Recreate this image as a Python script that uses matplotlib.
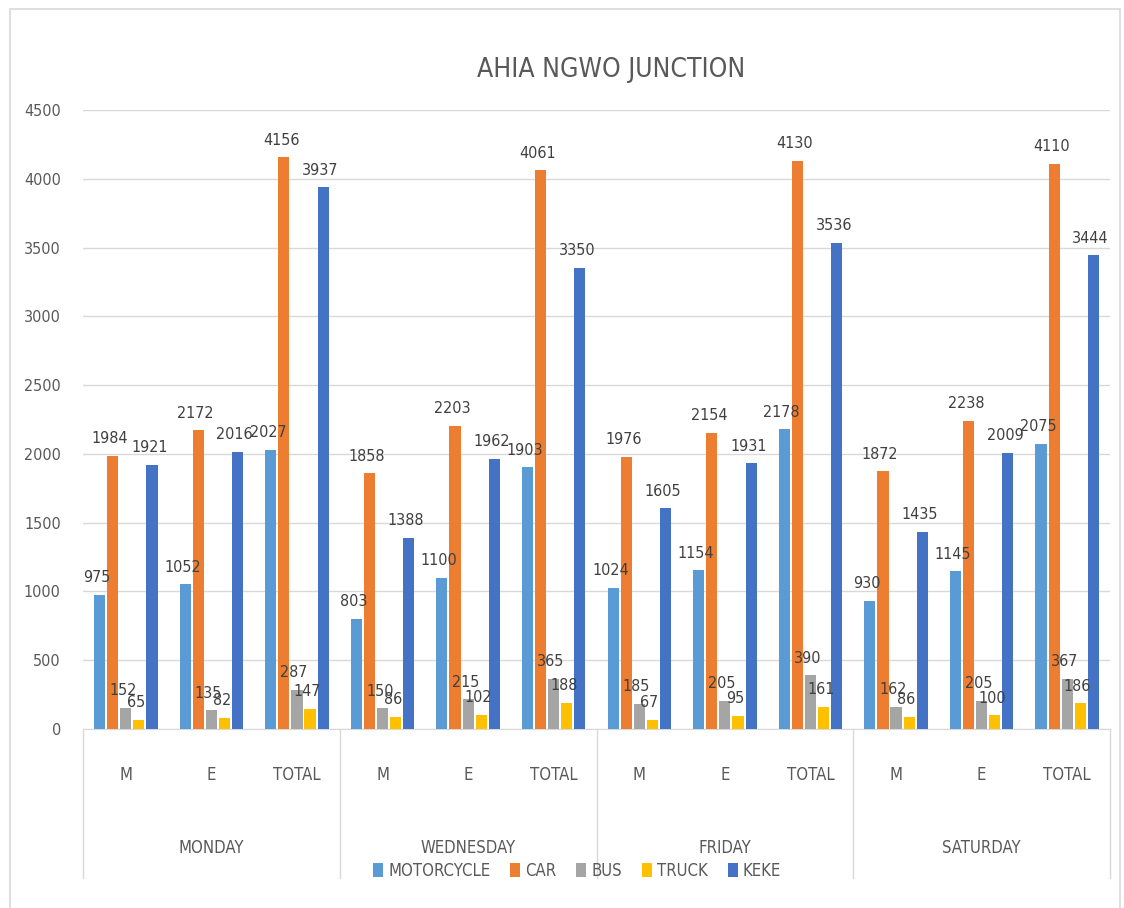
import matplotlib
matplotlib.use("Agg")
import matplotlib.pyplot as plt
import matplotlib.transforms as mtransforms
from matplotlib.patches import Rectangle
import numpy as np

plt.rcParams['font.family'] = ['DejaVu Sans']
plt.rcParams['font.stretch'] = 'condensed'

title = "AHIA NGWO JUNCTION"
days = ["MONDAY", "WEDNESDAY", "FRIDAY", "SATURDAY"]
periods = ["M", "E", "TOTAL"]
series_names = ["MOTORCYCLE", "CAR", "BUS", "TRUCK", "KEKE"]
colors = ["#5B9BD5", "#ED7D31", "#A5A5A5", "#FFC000", "#4472C4"]

motorcycle = [975, 1052, 2027, 803, 1100, 1903, 1024, 1154, 2178, 930, 1145, 2075]
car = [1984, 2172, 4156, 1858, 2203, 4061, 1976, 2154, 4130, 1872, 2238, 4110]
bus = [152, 135, 287, 150, 215, 365, 185, 205, 390, 162, 205, 367]
truck = [65, 82, 147, 86, 102, 188, 67, 95, 161, 86, 100, 186]
keke = [1921, 2016, 3937, 1388, 1962, 3350, 1605, 1931, 3536, 1435, 2009, 3444]
series = [motorcycle, car, bus, truck, keke]

W, H = 1124, 908
fig = plt.figure(figsize=(W / 100, H / 100), dpi=100)
# chart border
fig.patches.append(Rectangle((10 / W, -0.01), (1120 - 10) / W, 1 - 9 / H + 0.01,
                             transform=fig.transFigure, fill=False,
                             edgecolor="#D9D9D9", linewidth=1.2))

ax_l, ax_r, ax_t, ax_b = 83, 1110, 110, 729
ax = fig.add_axes([ax_l / W, 1 - ax_b / H, (ax_r - ax_l) / W, (ax_b - ax_t) / H])

n = len(motorcycle)
x = np.arange(n) + 0.5
step = 0.153
width = 0.13
text_color = "#404040"
for j, (vals, c) in enumerate(zip(series, colors)):
    xs = x + (j - 2) * step
    ax.bar(xs, vals, width=width, color=c, label=series_names[j], zorder=3)
    for xi, v in zip(xs, vals):
        ax.annotate(str(v), (xi, v), xytext=(-2, 7), textcoords="offset points",
                    ha="center", va="bottom", fontsize=11.5, color=text_color, zorder=4)

ax.set_xlim(0, n)
ax.set_ylim(0, 4500)
ax.set_yticks(np.arange(0, 4501, 500))
ax.tick_params(axis="y", length=0, pad=16, labelsize=11.5, labelcolor="#595959")
ax.yaxis.grid(True, color="#D9D9D9", linewidth=1, zorder=0)
for s in ["top", "right", "left"]:
    ax.spines[s].set_visible(False)
ax.spines["bottom"].set_color("#D9D9D9")

ax.set_xticks(x)
ax.set_xticklabels(periods * len(days))
ax.tick_params(axis="x", length=0, pad=27, labelsize=12, labelcolor="#595959")

trans = mtransforms.blended_transform_factory(ax.transData, ax.transAxes)
ax_h = ax_b - ax_t
sep_bottom = -(878 - ax_b) / ax_h
for k in range(len(days) + 1):
    ax.plot([3 * k, 3 * k], [0, sep_bottom], transform=trans, color="#D9D9D9",
            linewidth=1, clip_on=False)
for k, d in enumerate(days):
    ax.text(3 * k + 1.5, -(848 - ax_b) / ax_h, d, transform=trans, ha="center",
            va="center", fontsize=12, color="#595959")

fig.text(611 / W, 1 - 70 / H, title, ha="center", va="center", fontsize=19,
         color="#595959")

leg = fig.legend(loc="center", bbox_to_anchor=(577 / W, 1 - 871 / H), ncol=5,
                 frameon=False, fontsize=12, handlelength=0.6, handleheight=0.9,
                 handletextpad=0.3, columnspacing=1.2)
for t in leg.get_texts():
    t.set_color("#595959")

fig.savefig("out.png", dpi=100, facecolor="white")
